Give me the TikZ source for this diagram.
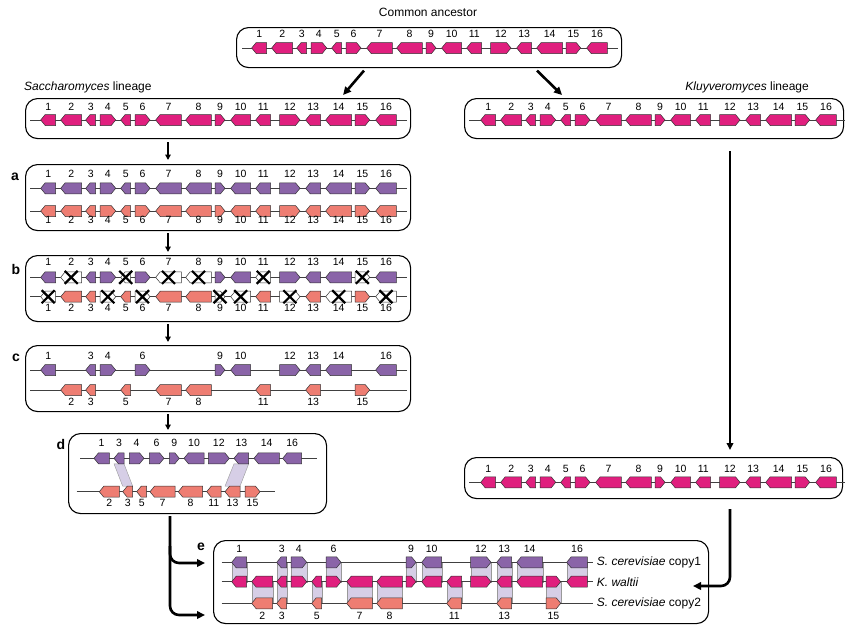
\documentclass[tikz,border=0pt]{standalone}
\usepackage{fontspec}
\setmainfont{Liberation Sans}
\usetikzlibrary{arrows.meta,calc}

\definecolor{ancpink}{RGB}{224,31,126}
\definecolor{scpurple}{RGB}{138,100,168}
\definecolor{scsalmon}{RGB}{238,125,114}
\definecolor{shadelav}{RGB}{214,206,230}

\tikzset{
  genebody/.style={draw=black!80, line width=0.5pt},
  backbone/.style={draw=black!75, line width=0.9pt},
  rowbox/.style={draw, line width=1.1pt, rounded corners=12pt, anchor=north west, inner sep=0pt},
  genenum/.style={inner sep=0pt, font=\fontsize{10.5}{12}\selectfont},
  titletext/.style={inner sep=0pt, font=\fontsize{12}{14}\selectfont},
  rowletter/.style={inner sep=0pt, font=\fontsize{14}{16}\selectfont\bfseries},
  crossmark/.style={line width=2.2pt},
  homolog/.style={fill=shadelav, draw=black!40, line width=0.4pt},
  steparrow/.style={line width=1.6pt, -{Triangle[length=5.5pt,width=5.5pt]}},
  bigarrow/.style={line width=2.6pt, -{Triangle[length=8pt,width=7.5pt]}},
}

% x0, width, y, colour
\newcommand{\geneR}[4]{\draw[genebody, fill=#4] (#1,#3-5.5) -- (#1+#2-4.5,#3-5.5) -- (#1+#2,#3) -- (#1+#2-4.5,#3+5.5) -- (#1,#3+5.5) -- cycle;}
\newcommand{\geneL}[4]{\draw[genebody, fill=#4] (#1+#2,#3-5.5) -- (#1+4.5,#3-5.5) -- (#1,#3) -- (#1+4.5,#3+5.5) -- (#1+#2,#3+5.5) -- cycle;}
\newcommand{\genecross}[2]{\draw[crossmark] (#1-6.5,#2-6.5) -- (#1+6.5,#2+6.5) (#1-6.5,#2+6.5) -- (#1+6.5,#2-6.5);}

% number/start/width/direction/kept in copy1/kept in copy2
\newcommand{\genelayout}{1/0/15/L/1/0, 2/20/21/L/0/1, 3/45/10/L/1/1, 4/59.3/15.7/R/1/0,
  5/80/10/L/0/1, 6/94.3/15/R/1/0, 7/115/25.6/L/0/1, 8/145/25.6/L/0/1,
  9/174.3/10/R/1/0, 10/190/20/L/1/0, 11/215/15/L/0/1, 12/239/20.3/R/1/0,
  13/265/15/L/1/1, 14/285/26/L/1/0, 15/314.3/14.7/R/0/1, 16/335/20.6/L/1/0}

% prefix, x origin, line y, label y, colour
\newcommand{\generow}[5]{%
  \foreach \gn/\gs/\gw/\gd/\gp/\gq in \genelayout {
    \csname gene\gd\endcsname{#2+\gs}{\gw}{#3}{#5}
    \node[genenum] (#1\gn) at (#2+\gs+\gw/2,#4) {\gn};
  }}

\begin{document}
\begin{tikzpicture}[x=1pt,y=-1pt]
\useasboundingbox (0,0) rectangle (845,625);

% boxes
\node[rowbox, minimum width=385pt, minimum height=40pt] (ancbox) at (236,27) {};
\node[rowbox, minimum width=385pt, minimum height=40pt] (saccbox) at (25,98) {};
\node[rowbox, minimum width=379pt, minimum height=40pt] (kluybox) at (464,98) {};
\node[rowbox, minimum width=385pt, minimum height=66pt] (abox) at (25,164) {};
\node[rowbox, minimum width=385pt, minimum height=66pt] (bbox) at (25,255) {};
\node[rowbox, minimum width=385pt, minimum height=66pt] (cbox) at (25,345) {};
\node[rowbox, minimum width=258pt, minimum height=80pt] (dbox) at (68,433) {};
\node[rowbox, minimum width=378pt, minimum height=41pt] (kluytwobox) at (464,457) {};
\node[rowbox, minimum width=495pt, minimum height=83pt] (ebox) at (213,540) {};

% titles and letters
\node[titletext] (anctitle) at (428,12) {Common ancestor};
\node[titletext, anchor=west] (sacctitle) at (24,87.5) {\textit{Saccharomyces} lineage};
\node[titletext, anchor=east] (kluytitle) at (809,87.5) {\textit{Kluyveromyces} lineage};
\node[rowletter] (la) at (15,177) {a};
\node[rowletter] (lb) at (16,269) {b};
\node[rowletter] (lc) at (16,358) {c};
\node[rowletter] (ld) at (61,444) {d};
\node[rowletter] (le) at (201,547) {e};

% ancestor and the two lineages
\draw[backbone] (242,48) -- (618,48);
\generow{anc}{251.7}{48}{34}{ancpink}
\draw[backbone] (30,120) -- (407,120);
\generow{sacc}{40.7}{120}{107}{ancpink}
\draw[backbone] (469,120) -- (845,120);
\generow{kluy}{480.7}{120}{107}{ancpink}
\draw[backbone] (469,482.3) -- (845,482.3);
\generow{kluytwo}{480.7}{482.3}{469}{ancpink}

% a: duplication
\draw[backbone] (30,188.3) -- (407,188.3);
\draw[backbone] (30,211) -- (407,211);
\generow{atop}{40.7}{188.3}{174}{scpurple}
\generow{abot}{40.7}{211}{220}{scsalmon}

% b: losses
\draw[backbone] (30,277.3) -- (407,277.3);
\draw[backbone] (30,296.7) -- (407,296.7);
\foreach \gn/\gs/\gw/\gd/\gp/\gq in \genelayout {
  \pgfmathsetmacro\gx{40.7+\gs}
  \pgfmathsetmacro\gc{\gx+\gw/2}
  \ifnum\gp=1 \csname gene\gd\endcsname{\gx}{\gw}{277.3}{scpurple}
  \else \csname gene\gd\endcsname{\gx}{\gw}{277.3}{white}\genecross{\gc}{277.3}\fi
  \ifnum\gq=1 \csname gene\gd\endcsname{\gx}{\gw}{296.7}{scsalmon}
  \else \csname gene\gd\endcsname{\gx}{\gw}{296.7}{white}\genecross{\gc}{296.7}\fi
  \node[genenum] (btop\gn) at (\gc,262) {\gn};
  \node[genenum] (bbot\gn) at (\gc,307.7) {\gn};
}

% c: survivors
\draw[backbone] (30,370) -- (407,370);
\draw[backbone] (30,390) -- (407,390);
\foreach \gn/\gs/\gw/\gd/\gp/\gq in \genelayout {
  \pgfmathsetmacro\gx{40.7+\gs}
  \pgfmathsetmacro\gc{\gx+\gw/2}
  \ifnum\gp=1 \csname gene\gd\endcsname{\gx}{\gw}{370}{scpurple}
    \node[genenum] (ctop\gn) at (\gc,355.7) {\gn};\fi
  \ifnum\gq=1 \csname gene\gd\endcsname{\gx}{\gw}{390}{scsalmon}
    \node[genenum] (cbot\gn) at (\gc,401.7) {\gn};\fi
}

% d: packed copies
\draw[homolog] (114,463.8) -- (124,463.8) -- (132.7,486.2) -- (122.7,486.2) -- cycle;
\draw[homolog] (234,463.8) -- (248.7,463.8) -- (240,486.2) -- (225,486.2) -- cycle;
\draw[backbone] (80,458.3) -- (316.7,458.3);
\draw[backbone] (76.7,491.7) -- (275,491.7);
\foreach \gn/\gx/\gw/\gd in {1/94/15.3/L, 3/114/10/L, 4/129.3/14.7/R, 6/149.3/14.7/R,
    9/169.3/10/R, 10/184/20/L, 12/208.3/21/R, 13/234/14.7/L, 14/254/25.3/L, 16/282.7/19/L} {
  \csname gene\gd\endcsname{\gx}{\gw}{458.3}{scpurple}
  \node[genenum] (dtop\gn) at (\gx+\gw/2,443) {\gn};
}
\foreach \gn/\gx/\gw/\gd in {2/99.3/20/L, 3/122.7/10/L, 5/136.7/10/L, 7/150/25/L,
    8/178.3/24.4/L, 11/206.7/14.3/L, 13/225/15/L, 15/245/15/R} {
  \csname gene\gd\endcsname{\gx}{\gw}{491.7}{scsalmon}
  \node[genenum] (dbot\gn) at (\gx+\gw/2,503) {\gn};
}

% e: comparison with K. waltii
\foreach \gn/\gs/\gw/\gd/\gp/\gq in \genelayout {
  \ifnum\gp=1 \draw[homolog] (231.7+\gs,562.3) rectangle (231.7+\gs+\gw,581.7);\fi
  \ifnum\gq=1 \draw[homolog] (231.7+\gs,581.7) rectangle (231.7+\gs+\gw,603.3);\fi
}
\draw[backbone] (221.7,562.3) -- (593.3,562.3);
\draw[backbone] (221.7,581.7) -- (593.3,581.7);
\draw[backbone] (221.7,603.3) -- (593.3,603.3);
\foreach \gn/\gs/\gw/\gd/\gp/\gq in \genelayout {
  \pgfmathsetmacro\gx{231.7+\gs}
  \pgfmathsetmacro\gc{\gx+\gw/2}
  \csname gene\gd\endcsname{\gx}{\gw}{581.7}{ancpink}
  \ifnum\gp=1 \csname gene\gd\endcsname{\gx}{\gw}{562.3}{scpurple}
    \node[genenum] (etop\gn) at (\gc,549) {\gn};\fi
  \ifnum\gq=1 \csname gene\gd\endcsname{\gx}{\gw}{603.3}{scsalmon}
    \node[genenum] (ebot\gn) at (\gc,616) {\gn};\fi
}
\node[titletext, anchor=west] (copyone) at (596.7,562.3) {\textit{S. cerevisiae} copy1};
\node[titletext, anchor=west] (waltii) at (596.7,581.7) {\textit{K. waltii}};
\node[titletext, anchor=west] (copytwo) at (596.7,603.3) {\textit{S. cerevisiae} copy2};

% arrows
\coordinate (sacccol) at (168,0);
\coordinate (kluycol) at (730,0);
\coordinate (dcol) at (170,0);
\coordinate (dsplit) at (170,546);
\coordinate (etop) at (205,563);
\coordinate (ebot) at (205,615);
\coordinate (ewaltii) at (693,586);

\draw[bigarrow] ($(ancbox.south west)+(128,2.5)$) -- ($(saccbox.north east)+(-68,-3)$);
\draw[bigarrow] ($(ancbox.south west)+(301,2.5)$) -- ($(kluybox.north west)+(98,-3)$);
\draw[steparrow] ([yshift=-3pt]saccbox.south -| sacccol) -- ([yshift=4pt]abox.north -| sacccol);
\draw[steparrow] ([yshift=-2pt]abox.south -| sacccol) -- ([yshift=3pt]bbox.north -| sacccol);
\draw[steparrow] ([yshift=-2pt]bbox.south -| sacccol) -- ([yshift=3pt]cbox.north -| sacccol);
\draw[steparrow] ([yshift=-2pt]cbox.south -| sacccol) -- ([yshift=3pt]dbox.north -| sacccol);
\draw[line width=2pt, -{Triangle[length=7pt,width=6.5pt]}] ([yshift=-12pt]kluybox.south -| kluycol) -- ([yshift=7pt]kluytwobox.north -| kluycol);
\draw[bigarrow, rounded corners=9pt] ([yshift=-10pt]kluytwobox.south -| kluycol) |- (ewaltii);
\draw[bigarrow, rounded corners=9pt] ([yshift=-2pt]dbox.south -| dcol) |- (ebot);
\draw[bigarrow, rounded corners=9pt] (dsplit) |- (etop);
\end{tikzpicture}
\end{document}
